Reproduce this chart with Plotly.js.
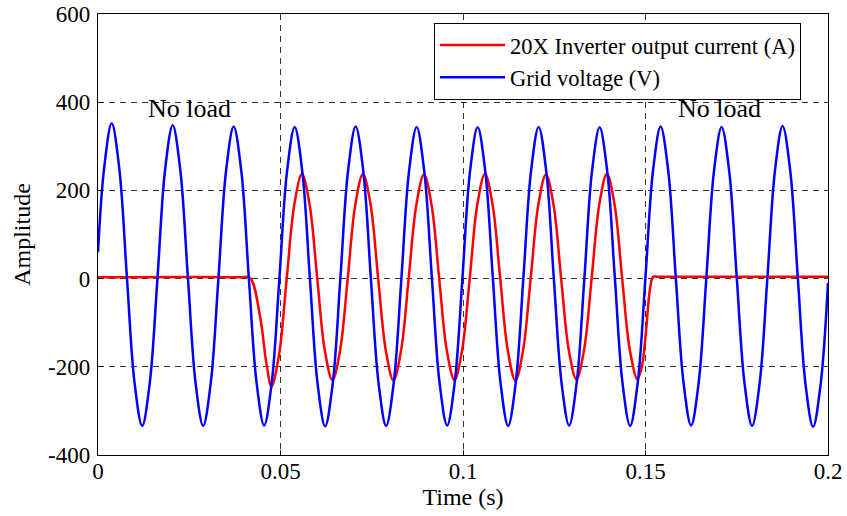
<!DOCTYPE html>
<html>
<head>
<meta charset="utf-8">
<script src="https://cdn.plot.ly/plotly-3.0.1.min.js"></script>
<style>
html,body{margin:0;padding:0;background:#fff;}
#chart{width:847px;height:516px;}
</style>
</head>
<body>
<div id="chart"></div>
<script>
// Time samples (s) for the grid voltage trace
var timeVoltage = [0,
  0.00166,0.00375,0.00584,0.00793,0.01001,0.01210,0.01419,0.01628,
  0.01837,0.02046,0.02255,0.02464,0.02672,0.02881,0.03090,0.03299,
  0.03508,0.03717,0.03926,0.04135,0.04343,0.04552,0.04761,0.04970,
  0.05179,0.05388,0.05597,0.05806,0.06014,0.06223,0.06432,0.06641,
  0.06850,0.07059,0.07268,0.07477,0.07685,0.07894,0.08103,0.08312,
  0.08521,0.08730,0.08939,0.09148,0.09356,0.09565,0.09774,0.09983,
  0.10192,0.10401,0.10610,0.10819,0.11027,0.11236,0.11445,0.11654,
  0.11863,0.12072,0.12281,0.12490,0.12698,0.12907,0.13116,0.13325,
  0.13534,0.13743,0.13952,0.14161,0.14369,0.14578,0.14787,0.14996,
  0.15205,0.15414,0.15623,0.15832,0.16040,0.16249,0.16458,0.16667,
  0.16876,0.17085,0.17294,0.17503,0.17711,0.17920,0.18129,0.18338,
  0.18547,0.18756,0.18965,0.19174,0.19382,0.19591,0.19800,0.2];
// Grid voltage (V)
var gridVoltage = [60,
  249,352,249,2,-236,-334,-236,-1,
  246,348,246,1,-236,-334,-236,0,
  244,345,244,-2,-235,-333,-235,1,
  243,344,243,0,-237,-335,-237,2,
  244,345,244,-1,-236,-334,-236,0,
  243,344,243,1,-235,-333,-235,-1,
  243,343,243,0,-236,-334,-236,1,
  243,344,243,-2,-235,-333,-235,0,
  243,343,243,1,-236,-334,-236,-1,
  244,345,244,0,-235,-333,-235,2,
  243,344,243,-1,-236,-334,-236,0,
  245,346,245,1,-238,-336,-238,-10];

// Time samples (s) for the 20X inverter output current trace
var timeCurrent = [0,0.0390,0.0416,0.0444,0.0461,
  0.04752,0.04961,0.05170,
  0.05379,0.05588,0.05797,0.06006,0.06214,0.06423,0.06632,0.06841,
  0.07050,0.07259,0.07468,0.07677,0.07885,0.08094,0.08303,0.08512,
  0.08721,0.08930,0.09139,0.09348,0.09556,0.09765,0.09974,0.10183,
  0.10392,0.10601,0.10810,0.11019,0.11227,0.11436,0.11645,0.11854,
  0.12063,0.12272,0.12481,0.12690,0.12898,0.13107,0.13316,0.13525,
  0.13734,0.13943,0.14152,0.14361,0.14569,0.14778,
  0.1490,0.1500,0.1512,0.1521,0.1535,0.2];
// 20X inverter output current (A)
var inverterCurrent = [3,3,2,-86,-190,
  -245,-172,0,
  168,237,168,1,-163,-230,-163,0,
  168,237,168,-1,-163,-231,-163,1,
  167,236,167,0,-163,-230,-163,-1,
  168,238,168,1,-163,-231,-163,0,
  167,236,167,-1,-162,-229,-162,1,
  168,238,168,0,-161,-228,
  -200,-132,-26,4,4,4];

var xTickVals = [0,0.05,0.1,0.15,0.2];
var xTickText = ['0','0.05','0.1','0.15','0.2'];
var yTickVals = [-400,-200,0,200,400,600];
var yTickText = ['-400','-200','0','200','400','600'];

var seriesNames = ['20X Inverter output current (A)','Grid voltage (V)'];
var noLoadLabels = [{x:0.0251, y:385, text:'No load'},{x:0.1703, y:385, text:'No load'}];

var FONT = 'Liberation Serif, Times New Roman, serif';

var traces = [
  {x: timeCurrent, y: inverterCurrent, type:'scatter', mode:'lines', name: seriesNames[0],
   line:{color:'#ff0000', width:2.5, shape:'spline', smoothing:1}},
  {x: timeVoltage, y: gridVoltage, type:'scatter', mode:'lines', name: seriesNames[1],
   line:{color:'#0000ff', width:2.5, shape:'spline', smoothing:1}}
];

function axisBase() {
  return {
    showline:true, linecolor:'#000', linewidth:1.2, mirror:true,
    ticks:'inside', ticklen:5, tickcolor:'#000',
    showgrid:true, gridcolor:'rgba(0,0,0,0.8)', gridwidth:1, griddash:'6px,5px',
    zeroline:false,
    tickfont:{family:FONT, size:23, color:'#000'}
  };
}

var xaxis = axisBase();
xaxis.range = [0,0.2];
xaxis.tickmode = 'array';
xaxis.tickvals = xTickVals;
xaxis.ticktext = xTickText;
xaxis.ticklabelstandoff = -5;
xaxis.title = {text:'Time (s)', font:{family:FONT, size:24, color:'#000'}, standoff:0};

var yaxis = axisBase();
yaxis.range = [-400,600];
yaxis.tickmode = 'array';
yaxis.tickvals = yTickVals;
yaxis.ticktext = yTickText;
yaxis.ticklabelstandoff = 2;
yaxis.title = {text:'Amplitude', font:{family:FONT, size:24, color:'#000'}, standoff:10};

var layout = {
  width:847, height:516,
  margin:{l:98, r:19, t:14, b:61, pad:0},
  paper_bgcolor:'#fff', plot_bgcolor:'#fff',
  font:{family:FONT, size:23, color:'#000'},
  showlegend:true,
  legend:{x:0.4603, y:0.9796, xanchor:'left', yanchor:'top',
    bgcolor:'#fff', bordercolor:'#000', borderwidth:1,
    font:{family:FONT, size:22.5, color:'#000'}, itemwidth:65, tracegroupgap:0},
  xaxis: xaxis,
  yaxis: yaxis,
  annotations: noLoadLabels.map(function(a){
    return {x:a.x, y:a.y, xref:'x', yref:'y', text:a.text, showarrow:false,
      xanchor:'center', yanchor:'middle', font:{family:FONT, size:26, color:'#000'}};
  })
};

Plotly.newPlot('chart', traces, layout, {displayModeBar:false, staticPlot:true});
</script>
</body>
</html>
